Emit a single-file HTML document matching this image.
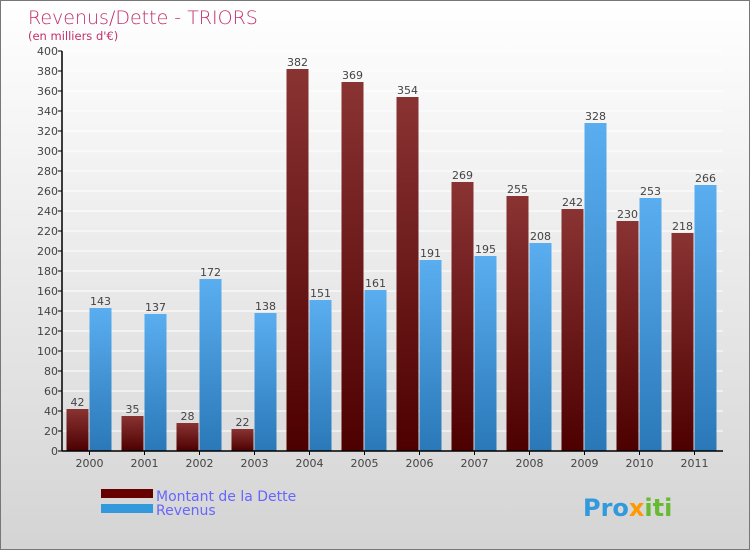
<!DOCTYPE html>
<html><head><meta charset="utf-8"><style>
body{margin:0;width:750px;height:550px;overflow:hidden;font-family:"DejaVu Sans","Liberation Sans",sans-serif}
#c{position:absolute;left:0;top:0;width:748px;height:548px;border:1px solid #777;background:linear-gradient(#ffffff,#d4d4d4)}
</style></head><body>
<div id="c">
<svg width="750" height="550">
<defs>
<linearGradient id="gd" x1="0" y1="0" x2="0" y2="1"><stop offset="0" stop-color="#8a3333"/><stop offset="1" stop-color="#4d0000"/></linearGradient>
<linearGradient id="gr" x1="0" y1="0" x2="0" y2="1"><stop offset="0" stop-color="#5aaef0"/><stop offset="1" stop-color="#2a78b8"/></linearGradient>
</defs>
<text x="27" y="23" font-size="19" fill="#c0306a" font-family="DejaVu Sans" font-weight="200">Revenus/Dette - TRIORS</text>
<text x="27" y="39" font-size="11.5" fill="#c0306a">(en milliers d'€)</text>
<g id="grid"></g><g id="bars"></g><g id="axes"></g>
<rect x="100" y="488" width="52" height="9" fill="#660000"/>
<rect x="100" y="503" width="52" height="9" fill="#3399dd"/>
<text x="155" y="500" font-size="14" fill="#6666ff">Montant de la Dette</text>
<text x="155" y="514" font-size="14" fill="#6666ff">Revenus</text>
<text x="582" y="515" font-size="24" font-weight="bold" fill="#3399dd">Pro<tspan fill="#ff9900">x</tspan><tspan fill="#66bb33">iti</tspan></text>
</svg></div>
<script>
const categories=["2000","2001","2002","2003","2004","2005","2006","2007","2008","2009","2010","2011"];
const dette=[42,35,28,22,382,369,354,269,255,242,230,218];
const revenus=[143,137,172,138,151,161,191,195,208,328,253,266];
const yTicks=[0,20,40,60,80,100,120,140,160,180,200,220,240,260,280,300,320,340,360,380,400];
const NS="http://www.w3.org/2000/svg";
const x0=61,band=55,y0=450,yMax=400,ph=400;
const y=v=>y0-v/yMax*ph;
const cx=i=>x0+band*(i+0.5);
function mk(t,a,p){const e=document.createElementNS(NS,t);for(const k in a)e.setAttribute(k,a[k]);p.appendChild(e);return e;}
const G=document.getElementById('grid'),B=document.getElementById('bars'),A=document.getElementById('axes');
yTicks.forEach(v=>{
 const l=mk('line',{x1:x0,x2:722,y1:y(v),y2:y(v),stroke:'#ffffff','stroke-width':1},G);
 
 
 const t=mk('line',{x1:x0-4,x2:x0,y1:y(v),y2:y(v),stroke:'#000'},A);
 
 
 const tx=mk('text',{x:x0-4,y:y(v)+4,'font-size':11,fill:'#444','text-anchor':'end'},A);
 tx.textContent=v;
 
 
});
categories.forEach((c,i)=>{
 const d=dette[i],r=revenus[i];
 const b1=mk('rect',{x:cx(i)-23,y:y(d),width:22,height:y0-y(d),fill:'url(#gd)'},B);
 
 
 const b2=mk('rect',{x:cx(i),y:y(r),width:22,height:y0-y(r),fill:'url(#gr)'},B);
 
 
 const l1=mk('text',{x:cx(i)-12,y:y(d)-3,'font-size':11,fill:'#444','text-anchor':'middle'},B);
 l1.textContent=d;
 
 
 const l2=mk('text',{x:cx(i)+11,y:y(r)-3,'font-size':11,fill:'#444','text-anchor':'middle'},B);
 l2.textContent=r;
 
 
 const tk=mk('line',{x1:cx(i),x2:cx(i),y1:y0,y2:y0+4,stroke:'#000'},A);
 
 
 const xl=mk('text',{x:cx(i),y:y0+16,'font-size':11,fill:'#444','text-anchor':'middle'},A);
 xl.textContent=c;
 
 
});
const ya=mk('line',{x1:x0,x2:x0,y1:y(400),y2:y0,stroke:'#000','stroke-width':1.5},A);


const xa=mk('line',{x1:x0,x2:722,y1:y0,y2:y0,stroke:'#000','stroke-width':1.5},A);


</script>
</body></html>
